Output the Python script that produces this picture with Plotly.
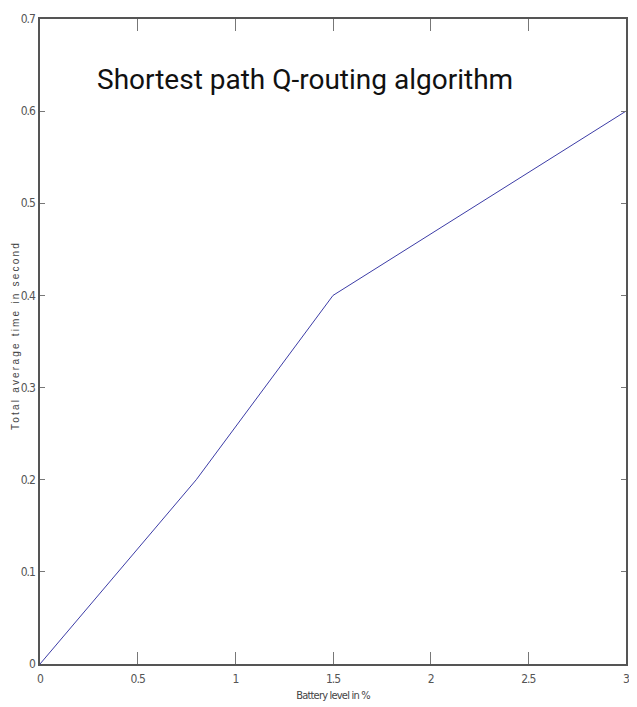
import plotly.graph_objects as go

battery = [0, 0.8, 1.5, 3]
avg_time = [0, 0.2, 0.4, 0.6]
x_ticks = [0, 0.5, 1, 1.5, 2, 2.5, 3]
x_tick_labels = ["0", "0.5", "1", "1.5", "2", "2.5", "3"]
y_ticks = [0, 0.1, 0.2, 0.3, 0.4, 0.5, 0.6, 0.7]
y_tick_labels = ["0", "0.1", "0.2", "0.3", "0.4", "0.5", "0.6", "0.7"]
title_text = "Shortest path Q-routing algorithm"
x_title = "Battery level in %"
y_title = "Total average time in second"

narrow = "Liberation Sans Narrow, Arial Narrow, DejaVu Sans Condensed, sans-serif"


def spaced(s, px):
    return f'<span style="letter-spacing:{px}px">{s}</span>'


fig = go.Figure()
fig.add_trace(go.Scatter(x=battery, y=avg_time, mode="lines",
                         line=dict(color="#3c3ca6", width=1), showlegend=False))

axis_common = dict(showgrid=False, zeroline=False, showline=True, linecolor="#555555",
                   linewidth=1.5, mirror="ticks", ticks="inside", tickcolor="#777777",
                   automargin=False,
                   tickfont=dict(family=narrow, size=12, color="#555555"))

fig.update_xaxes(range=[0, 3], tickvals=x_ticks,
                 ticktext=[spaced(t, -1) for t in x_tick_labels], ticklen=12,
                 ticklabelstandoff=3,
                 title=dict(text=spaced(x_title, -0.8),
                            font=dict(family=narrow, size=11, color="#444444"),
                            standoff=6),
                 **axis_common)
fig.update_yaxes(range=[0, 0.7], tickvals=y_ticks,
                 ticktext=[spaced(t, -1) for t in y_tick_labels], ticklen=5,
                 ticklabelstandoff=1,
                 **axis_common)

# rotated y-axis title placed just left of the tick labels
fig.add_annotation(x=0, y=0.356, xref="paper", yref="y", xshift=-24, xanchor="center",
                   yanchor="middle", textangle=-90, text=spaced(y_title, 2.2), showarrow=False,
                   font=dict(family="Liberation Sans, Arial, sans-serif", size=10, color="#444444"))

fig.add_annotation(x=0, y=0.634, xref="x", yref="y", xshift=55, xanchor="left", yanchor="middle",
                   text=title_text, showarrow=False,
                   font=dict(family="Roboto, sans-serif", size=28, color="#111111"))

# page body has an 8px default margin, so the figure is sized/margined to compensate
fig.update_layout(width=629, height=699, margin=dict(l=32, r=11, t=11, b=43, autoexpand=False),
                  paper_bgcolor="white", plot_bgcolor="white")

fig.write_html("out.html")
